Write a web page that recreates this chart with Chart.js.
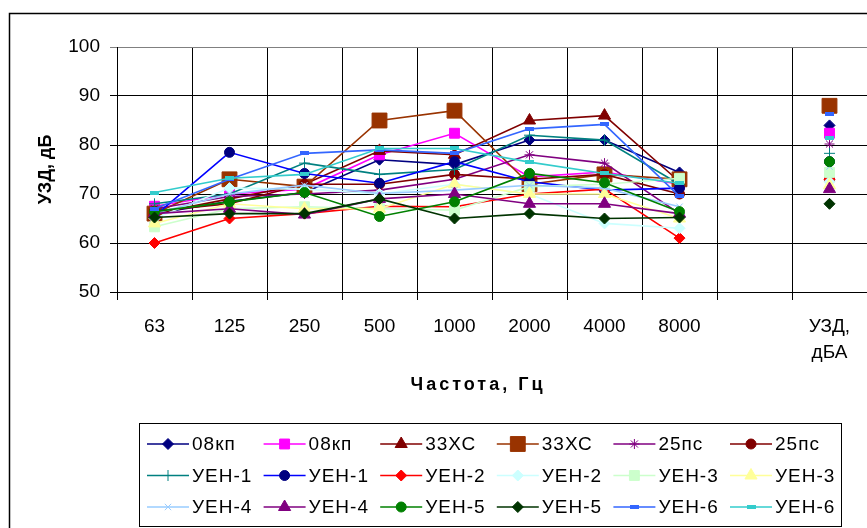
<!DOCTYPE html>
<html>
<head>
<meta charset="utf-8">
<script src="https://cdn.jsdelivr.net/npm/chart.js@4"></script>
<style>
  html, body { margin: 0; background: #fff; overflow: hidden; }
  #wrap { width: 867px; height: 528px; overflow: hidden; }
  canvas { display: block; }
</style>
</head>
<body>
<div id="wrap"><canvas id="c"></canvas></div>
<script>
// categories (the empty one keeps the gap before the total column)
const categories = ['63', '125', '250', '500', '1000', '2000', '4000', '8000', '', ['УЗД,', 'дБА']];
const yTicks = [50, 60, 70, 80, 90, 100];

// series values, dB
const kp08a   = [66, 68.5, 70.3, 77, 76, 81, 81, 74.4, null, 84];
const kp08b   = [67.5, 70, 71, 78, 82.4, 73.5, 74.5, 72, null, 82.4];
const hs33a   = [66, 69, 72, 78.8, 78, 85, 86, 72.5, null, 87.5];
const hs33b   = [66, 73, 71.5, 85, 87, 72, 74, 73, null, 88];
const ps25a   = [67, 69.5, 70, 70.8, 73, 78, 76.3, 66, null, 80.2];
const ps25b   = [66.5, 68, 72, 72, 74, 73, 74, 70, null, 73];
const uen1a   = [68, 70, 76.3, 74, 75, 82, 81, 72, null, 78.3];
const uen1b   = [65.5, 78.5, 74.2, 72.2, 76.6, 72.5, 70.8, 71.2, null, 76.6];
const uen2a   = [60, 65, 66, 67.5, 67.4, 70, 71, 61, null, 73];
const uen2b   = [65, 71.2, 71, 70, 72, 70, 64, 63, null, 72.5];
const uen3a   = [63.3, 67, 67.4, 67, 66.7, 71.5, 72, 73.2, null, 74.4];
const uen3b   = [64, 68, 67, 67, 72, 70, 70, 65, null, 71.8];
const uen4a   = [66, 70, 71.8, 70.1, 70.8, 71.8, 71.2, 67.4, null, 75.6];
const uen4b   = [66, 67, 65.8, 69, 70, 68, 68, 66, null, 71];
const uen5a   = [66.4, 68.4, 70.3, 65.4, 68.4, 74.2, 72.3, 66.4, null, 76.6];
const uen5b   = [65.2, 66, 66, 69, 65, 66, 65, 65.2, null, 68];
const uen6a   = [67, 73, 78.3, 79, 78.3, 83.3, 84.2, 69.5, null, 86.4];
const uen6b   = [70.3, 73.2, 74, 79.3, 79.3, 76.5, 74.2, 72.2, null, 81.4];

function dash(color) {
  const c = document.createElement('canvas');
  c.width = 9; c.height = 4;
  const g = c.getContext('2d');
  g.fillStyle = color;
  g.fillRect(0, 0, 9, 4);
  return c;
}

const series = [
  ['08кп',  kp08a, '#000080', '#000080', 'rectRot', 5.5],
  ['08кп',  kp08b, '#FF00FF', '#FF00FF', 'rect', 7],
  ['33ХС',  hs33a, '#800000', '#800000', 'triangle', 7],
  ['33ХС',  hs33b, '#993300', '#993300', 'rect', 10.5],
  ['25пс',  ps25a, '#800080', '#800080', 'star', 5],
  ['25пс',  ps25b, '#800000', '#800000', 'circle', 5],
  ['УЕН-1', uen1a, '#008080', '#008080', 'cross', 5.5],
  ['УЕН-1', uen1b, '#0000FF', '#000080', 'circle', 5],
  ['УЕН-2', uen2a, '#FF0000', '#FF0000', 'rectRot', 5.5],
  ['УЕН-2', uen2b, '#CCFFFF', '#CCFFFF', 'rectRot', 5.5],
  ['УЕН-3', uen3a, '#CCFFCC', '#CCFFCC', 'rect', 7],
  ['УЕН-3', uen3b, '#FFFF99', '#FFFF99', 'triangle', 7],
  ['УЕН-4', uen4a, '#99CCFF', '#99CCFF', 'crossRot', 4.5],
  ['УЕН-4', uen4b, '#800080', '#800080', 'triangle', 7],
  ['УЕН-5', uen5a, '#008000', '#008000', 'circle', 5],
  ['УЕН-5', uen5b, '#003300', '#003300', 'rectRot', 5.5],
  ['УЕН-6', uen6a, '#3366FF', '#3366FF', dash('#3366FF'), 5],
  ['УЕН-6', uen6b, '#33CCCC', '#33CCCC', dash('#33CCCC'), 5]
];

const FONT = '"Liberation Sans", Arial, sans-serif';

const datasets = series.map((s, i) => ({
  label: s[0],
  data: s[1],
  borderColor: s[2],
  backgroundColor: s[3],
  pointBackgroundColor: s[3],
  pointBorderColor: s[3],
  pointStyle: s[4],
  pointRadius: s[5],
  pointBorderWidth: 1,
  borderWidth: 1.6,
  tension: 0,
  order: series.length - i
}));

const frame = {
  id: 'frame',
  beforeDraw(chart) {
    const ctx = chart.ctx;
    ctx.save();
    ctx.fillStyle = '#fff';
    ctx.fillRect(0, 0, chart.width, chart.height);
    ctx.strokeStyle = '#000';
    ctx.lineWidth = 1.5;
    ctx.strokeRect(9.5, 13.5, 1000, 1000);
    ctx.restore();
  },
  afterDraw(chart) {
    const ctx = chart.ctx;
    ctx.save();
    // x axis title
    ctx.fillStyle = '#000';
    ctx.font = 'bold 18px ' + FONT;
    ctx.letterSpacing = '3px';
    ctx.textAlign = 'center';
    ctx.textBaseline = 'middle';
    ctx.fillText('Частота, Гц', 478, 385);
    ctx.textAlign = 'left';
    // legend
    ctx.strokeStyle = '#000';
    ctx.lineWidth = 1;
    ctx.strokeRect(139.5, 423.5, 702, 103);
    ctx.font = '19px ' + FONT;
    ctx.letterSpacing = '1px';
    chart.data.datasets.forEach((ds, i) => {
      const x = 147 + (i % 6) * 116.6;
      const y = 444 + Math.floor(i / 6) * 31.5;
      ctx.strokeStyle = ds.borderColor;
      ctx.lineWidth = ds.borderWidth;
      ctx.beginPath();
      ctx.moveTo(x, y);
      ctx.lineTo(x + 42, y);
      ctx.stroke();
      ctx.fillStyle = ds.pointBackgroundColor;
      ctx.strokeStyle = ds.pointBorderColor;
      ctx.lineWidth = 1;
      Chart.helpers.drawPoint(ctx, {
        pointStyle: ds.pointStyle, radius: ds.pointRadius, rotation: 0, borderWidth: 1
      }, x + 21, y);
      ctx.fillStyle = '#000';
      ctx.fillText(ds.label, x + 45, y + 1);
    });
    ctx.restore();
  }
};

new Chart(document.getElementById('c'), {
  type: 'line',
  data: { labels: categories, datasets: datasets },
  plugins: [frame],
  options: {
    responsive: true,
    maintainAspectRatio: false,
    animation: false,
    layout: { autoPadding: false, padding: { left: 31, top: 47, right: 0, bottom: 128 } },
    plugins: { legend: { display: false }, tooltip: { enabled: false } },
    scales: {
      x: {
        offset: true,
        grid: { offset: true, color: '#000', lineWidth: 1, tickLength: 8 },
        border: { color: '#000' },
        ticks: {
          color: '#000', padding: 14, maxRotation: 0, autoSkip: false,
          font: { family: FONT, size: 19, lineHeight: 1.35 }
        },
        afterFit(s) { s.height = 108; s.paddingLeft = 0; s.paddingRight = 0; }
      },
      y: {
        min: 50, max: 100,
        afterBuildTicks(s) { s.ticks = yTicks.map(v => ({ value: v })); },
        grid: {
          color: c => (c.tick && c.tick.value === 100 ? '#808080' : '#000'),
          lineWidth: 1, tickLength: 7
        },
        border: { color: '#000' },
        ticks: { color: '#000', padding: 10, font: { family: FONT, size: 19 } },
        title: {
          display: true, text: 'УЗД, дБ', color: '#000',
          font: { family: FONT, size: 18, weight: 'bold' }, padding: { top: 4, bottom: 4 }
        },
        afterFit(s) { s.width = 86; }
      }
    }
  }
});
</script>
</body>
</html>
